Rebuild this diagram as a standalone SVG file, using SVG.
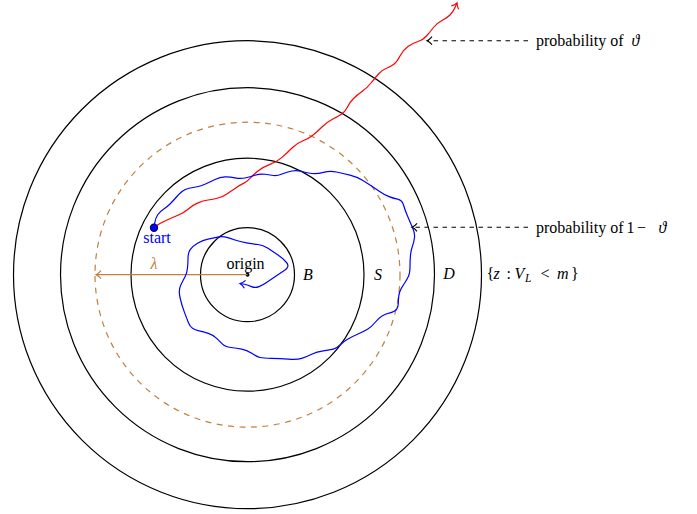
<svg xmlns="http://www.w3.org/2000/svg" width="697" height="514" viewBox="0 0 697 514">
<style>
.ring{fill:none;stroke:#000;stroke-width:1.2}
.t{font-family:"Liberation Serif","Times New Roman",serif;font-size:16px;fill:#000}
.it{font-style:italic}
.dash{fill:none;stroke:#000;stroke-width:1.1;stroke-dasharray:4.5 4.5}
</style>
<defs>
<marker id="ak" markerUnits="userSpaceOnUse" markerWidth="10" markerHeight="10" refX="0" refY="0" orient="auto" overflow="visible"><path d="M-5,-4 C-3,-1.5 -1,-0.4 0,0 C-1,0.4 -3,1.5 -5,4" fill="none" stroke="#000" stroke-width="1.1"/></marker>
<marker id="ar" markerUnits="userSpaceOnUse" markerWidth="10" markerHeight="10" refX="0" refY="0" orient="auto" overflow="visible"><path d="M-5,-4 C-3,-1.5 -1,-0.4 0,0 C-1,0.4 -3,1.5 -5,4" fill="none" stroke="#f00" stroke-width="1.2"/></marker>
<marker id="ab" markerUnits="userSpaceOnUse" markerWidth="10" markerHeight="10" refX="0" refY="0" orient="auto" overflow="visible"><path d="M-5,-4 C-3,-1.5 -1,-0.4 0,0 C-1,0.4 -3,1.5 -5,4" fill="none" stroke="#00f" stroke-width="1.2"/></marker>
<marker id="ao" markerUnits="userSpaceOnUse" markerWidth="10" markerHeight="10" refX="0" refY="0" orient="auto" overflow="visible"><path d="M-5,-4 C-3,-1.5 -1,-0.4 0,0 C-1,0.4 -3,1.5 -5,4" fill="none" stroke="#bf8040" stroke-width="1.2"/></marker>
</defs>

<g id="outer">
<circle class="ring" cx="247.5" cy="274.7" r="234"/>
<text class="t" y="279"><tspan x="486.5">{</tspan><tspan class="it" x="493.5">z</tspan><tspan x="506.5">:</tspan><tspan class="it" x="514.5">V</tspan><tspan class="it" x="525" y="282" font-size="11.5">L</tspan><tspan x="540.5" y="279">&lt;</tspan><tspan class="it" x="557">m</tspan><tspan x="571">}</tspan></text>
</g>
<g id="D">
<circle class="ring" cx="247.5" cy="274.7" r="187"/>
<text class="t it" x="449" y="279" text-anchor="middle">D</text>
</g>
<g id="lambda-circle">
<circle cx="247.5" cy="274.7" r="152.5" fill="none" stroke="#bf8040" stroke-width="1.2" stroke-dasharray="6 5.5"/>
</g>
<g id="S">
<circle class="ring" cx="247.5" cy="274.7" r="116.5"/>
<text class="t it" x="378" y="279.5" text-anchor="middle">S</text>
</g>
<g id="B">
<circle class="ring" cx="247.5" cy="274.7" r="47"/>
<text class="t it" x="308" y="279.5" text-anchor="middle">B</text>
</g>
<g id="origin">
<circle cx="247.5" cy="274.7" r="2" fill="#000"/>
<text class="t" x="245.5" y="268.5" text-anchor="middle">origin</text>
</g>
<g id="start">
<text class="t" x="157" y="242.5" text-anchor="middle" style="fill:#00f">start</text>
</g>
<g id="label-theta">
<text class="t" y="45.5"><tspan x="536">probability of</tspan><tspan class="it" x="631.5">ϑ</tspan></text>
</g>
<g id="label-1-theta">
<text class="t" y="233"><tspan x="536">probability of</tspan><tspan x="626.5">1</tspan><tspan x="637">−</tspan><tspan class="it" x="658.5">ϑ</tspan></text>
</g>

<g id="connectors">
<path d="M247.5,274.7 L96,274.7" fill="none" stroke="#bf8040" stroke-width="1.2" marker-end="url(#ao)"/>
<text class="t it" x="154" y="268.5" text-anchor="middle" style="fill:#bf8040">λ</text>
<path d="M154,227.7 L157,225.5 Q160,223.3 166.5,220.3 Q173,217.3 178,215.3 Q183,213.3 188,209.2 Q193,205 198,202.9 Q203,200.7 208,200 Q213,199.3 218,198 Q223,196.7 226.5,194.2 Q230,191.7 235,188.4 Q240,185 243.5,183.4 Q247,181.7 250,178.4 Q253,175 258,171 Q263,167 270,164.4 Q277,161.7 282,157.4 Q287,153 292,148 Q297,143 302.5,141 Q308,139 312.5,135.5 Q317,132 322,127 Q327,122 332,119.5 Q337,117 341,114.5 Q345,112 347.5,107 Q350,102 353.5,98.5 Q357,95 362,91.5 Q367,88 371,83 Q375,78 378.5,74 Q382,70 386,68.5 Q390,67 393.5,64.5 Q397,62 400,56 Q403,50 408,46.5 Q413,43 418,41.5 Q423,40 426.5,36 Q430,32 433.5,27.5 Q437,23 442,20.5 Q447,18 450,15 Q453,12 455,7.5 L457,3" fill="none" stroke="#f00" stroke-width="1.2" marker-end="url(#ar)"/>
<path d="M154,227.7 L154.75,222.85 Q155.5,218 157.75,214.75 Q160,211.5 163.5,209.25 Q167,207 170,204 Q173,201 176,197.5 Q179,194 182,191.5 Q185,189 189,188.25 Q193,187.5 197,186.75 Q201,186 205.5,184 Q210,182 215,179.5 Q220,177 225,176.85 Q230,176.7 235,177.85 Q240,179 245,178 Q250,177 255,175.25 Q260,173.5 265,174.25 Q270,175 273.5,175.5 Q277,176 282,174 Q287,172 292,171 Q297,170 302,171.5 Q307,173 312,173.5 Q317,174 323.5,172.35 Q330,170.7 336.5,172 Q343,173.3 350,175.15 Q357,177 362,180 Q367,183 371.5,186 Q376,189 380,191.75 Q384,194.5 388.5,196.4 Q393,198.3 397.5,199.15 Q402,200 403.5,205 Q405,210 407.5,216 Q410,222 412.5,227.5 Q415,233 414.5,237.5 Q414,242 412.5,246 Q411,250 410.5,255 Q410,260 410,266.5 Q410,273 408.35,276.5 Q406.7,280 405,282.5 Q403.3,285 401.3,288.35 Q399.3,291.7 398.8,295.85 Q398.3,300 398.3,303.35 Q398.3,306.7 396.65,309.2 Q395,311.7 390,312.85 Q385,314 381.65,316.15 Q378.3,318.3 375,322.5 Q371.7,326.7 367.5,329.2 Q363.3,331.7 357.5,334.2 Q351.7,336.7 347.5,339.2 Q343.3,341.7 340,345 Q336.7,348.3 333.35,349.15 Q330,350 323.35,350.85 Q316.7,351.7 311.7,354.2 Q306.7,356.7 301.7,358.35 Q296.7,360 288.35,359.15 Q280,358.3 271.65,358.3 Q263.3,358.3 260,357.5 Q256.7,356.7 251.7,353.35 Q246.7,350 241.7,349.15 Q236.7,348.3 230.85,347.5 Q225,346.7 222.5,344.2 Q220,341.7 216.65,338.35 Q213.3,335 208.3,333.35 Q203.3,331.7 199.15,330.85 Q195,330 192.5,328.35 Q190,326.7 188.35,322.5 Q186.7,318.3 184.2,311.65 Q181.7,305 180,297.5 Q178.3,290 180.8,285 Q183.3,280 185.15,276.5 Q187,273 187.5,268 Q188,263 188,258 Q188,253 190,249.85 Q192,246.7 197.5,243.35 Q203,240 208,239.15 Q213,238.3 217.5,237.15 Q222,236 226,237.15 Q230,238.3 235,240 Q240,241.7 246.5,242.85 Q253,244 258,244.5 Q263,245 268,248.35 Q273,251.7 278,255 Q283,258.3 286.5,262.5 Q290,266.7 285,270 Q280,273.3 275,276.65 Q270,280 266.5,282.5 Q263,285 259,286.65 Q255,288.3 251.5,286.65 Q248,285 244.5,284.25 L240,283.5" fill="none" stroke="#00f" stroke-width="1.2" marker-end="url(#ab)"/>
<path class="dash" d="M528,40.7 L427,40.7" marker-end="url(#ak)"/>
<path class="dash" d="M528,227.3 L412,227.3" marker-end="url(#ak)"/>
<circle cx="154" cy="227.7" r="3.6" fill="#00f" stroke="#00007a" stroke-width="1.2"/>
</g>
</svg>
